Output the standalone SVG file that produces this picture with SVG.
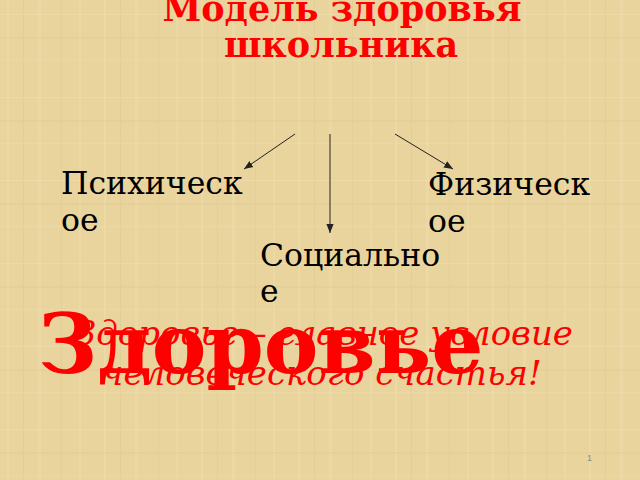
<svg xmlns="http://www.w3.org/2000/svg" width="640" height="480" viewBox="0 0 640 480">
<style>
.title{font-family:"DejaVu Serif",serif;font-weight:bold;font-size:35px;fill:#ff0000;text-anchor:middle}
.lbl{font-family:"DejaVu Serif",serif;font-size:31.5px;fill:#000}
.big{font-family:"DejaVu Serif",serif;font-weight:bold;font-size:82px;fill:#ff0000}
.it{font-family:"DejaVu Serif",serif;font-style:italic;font-size:34px;fill:#ff0000;text-anchor:middle}
.conn{stroke:#222;stroke-width:1;fill:none;marker-end:url(#ah)}
</style>
<defs>
<marker id="ah" viewBox="0 0 10 10" refX="10" refY="5" markerWidth="9" markerHeight="9" markerUnits="userSpaceOnUse" orient="auto">
<path d="M0,1 L10,5 L0,9 z" fill="#222"/>
</marker>
<pattern id="pap" width="97" height="83" patternUnits="userSpaceOnUse">
<rect width="97" height="83" fill="#e9d49d"/>
<rect x="7" width="2" height="83" fill="#f2e2b4" opacity="0.35"/>
<rect x="23" width="1" height="83" fill="#d9c18a" opacity="0.3"/>
<rect x="38" width="3" height="83" fill="#f3e4b8" opacity="0.3"/>
<rect x="61" width="1" height="83" fill="#dbc48d" opacity="0.3"/>
<rect x="79" width="2" height="83" fill="#f1e1b2" opacity="0.3"/>
<rect y="14" width="97" height="1" fill="#f3e4b8" opacity="0.35"/>
<rect y="37" width="97" height="2" fill="#dcc48c" opacity="0.25"/>
<rect y="60" width="97" height="1" fill="#f1e1b2" opacity="0.3"/>
</pattern>
</defs>
<rect width="640" height="480" fill="url(#pap)"/>
<g id="title">
<text class="title" x="342" y="21">Модель здоровья</text>
<text class="title" x="341" y="57">школьника</text>
</g>
<g id="connectors">
<line class="conn" x1="295" y1="134" x2="244" y2="169"/>
<line class="conn" x1="330" y1="134" x2="330" y2="233"/>
<line class="conn" x1="395" y1="134" x2="453" y2="169"/>
</g>
<g id="psych">
<text class="lbl" x="61" y="194">Психическ</text>
<text class="lbl" x="61" y="231">ое</text>
</g>
<g id="phys">
<text class="lbl" x="428" y="195">Физическ</text>
<text class="lbl" x="428" y="232">ое</text>
</g>
<g id="social">
<text class="lbl" x="260" y="266">Социально</text>
<text class="lbl" x="260" y="302">е</text>
</g>
<g id="motto">
<text class="it" x="324" y="345">Здоровье – главное условие</text>
<text class="it" x="322" y="385">человеческого счастья!</text>
</g>
<g id="health">
<text class="big" x="38" y="373">Здоровье</text>
</g>
<text x="587" y="461" style="font-family:'Liberation Sans',sans-serif;font-size:9px;fill:#8a8a8a">1</text>
</svg>
